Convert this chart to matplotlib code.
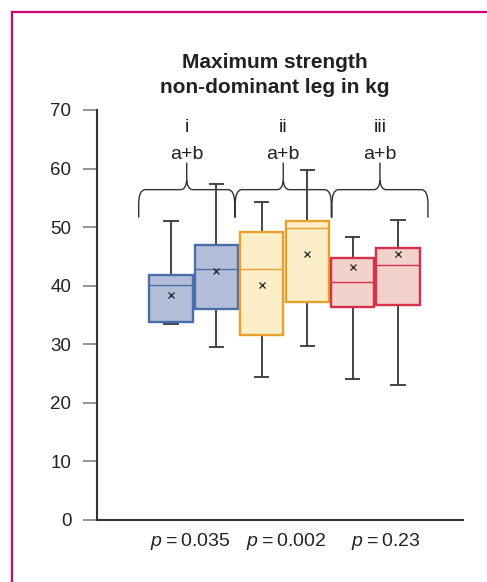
import matplotlib
matplotlib.use("Agg")
import matplotlib.pyplot as plt
from matplotlib.path import Path
from matplotlib.patches import PathPatch
from matplotlib.lines import Line2D
import matplotlib.transforms as mtransforms

plt.rcParams['font.family'] = ['Liberation Sans', 'DejaVu Sans']
plt.rcParams['mathtext.fontset'] = 'custom'
plt.rcParams['mathtext.it'] = 'Liberation Sans:italic'
plt.rcParams['mathtext.rm'] = 'Liberation Sans'

# ---- data ----
group_labels = ["i", "ii", "iii"]
sig_labels = ["a+b", "a+b", "a+b"]
p_labels = ["0.035", "0.002", "0.23"]
whislo = [33.4, 29.6, 24.5, 29.7, 24.1, 23.0]
q1 = [33.8, 36.1, 31.6, 37.3, 36.3, 36.7]
med = [40.2, 42.9, 42.8, 49.8, 40.7, 43.6]
q3 = [41.9, 47.0, 49.1, 51.1, 44.7, 46.5]
whishi = [51.1, 57.4, 54.3, 59.8, 48.4, 51.3]
means = [38.4, 42.5, 40.1, 45.4, 43.2, 45.5]
yticks = [0, 10, 20, 30, 40, 50, 60, 70]
title = "Maximum strength\nnon-dominant leg in kg"

fills = ["#b4bed9", "#b4bed9", "#fbeec8", "#fbeec8", "#f3d2cb", "#f3d2cb"]
edges = ["#4a6ea8", "#4a6ea8", "#e8a12e", "#e8a12e", "#d8304b", "#d8304b"]

W, H = 487, 582
fig = plt.figure(figsize=(W / 100, H / 100), dpi=100)
ax = fig.add_axes([97 / W, (H - 520) / H, (463 - 97) / W, (520 - 110) / H])

positions = list(range(1, 7))
stats = []
for i in range(6):
    stats.append(dict(whislo=whislo[i], q1=q1[i], med=med[i], q3=q3[i],
                      whishi=whishi[i], mean=means[i], fliers=[]))

bp = ax.bxp(stats, positions=positions, widths=0.95, patch_artist=True,
            showmeans=True, showfliers=False, capwidths=0.29,
            meanprops=dict(marker='x', markeredgecolor='#222222',
                           markersize=5, markeredgewidth=0.9),
            whiskerprops=dict(color='#444444', linewidth=1.4),
            capprops=dict(color='#444444', linewidth=1.4))
for i in range(6):
    bp['boxes'][i].set_facecolor(fills[i])
    bp['boxes'][i].set_edgecolor(edges[i])
    bp['boxes'][i].set_linewidth(1.7)
    bp['boxes'][i].set_zorder(3)
    bp['medians'][i].set_color(edges[i])
    bp['medians'][i].set_linewidth(1.0)
    bp['medians'][i].set_zorder(4)
    bp['means'][i].set_zorder(5)

ax.set_xlim(-0.630, 7.432)
ax.set_ylim(0, 70)
ax.set_yticks(yticks)
ax.set_xticks([])
for s in ['top', 'right']:
    ax.spines[s].set_visible(False)
for s in ['left', 'bottom']:
    ax.spines[s].set_color('#333333')
    ax.spines[s].set_linewidth(1.5)
ax.tick_params(axis='y', direction='out', length=10, width=1.1, color='#777777',
               pad=8.5, labelsize=13.5, labelcolor='#222222')

# braces
def brace(xc, yc):
    s = 1 / 100.0
    Wb = 48
    verts = [(-Wb, -28), (-Wb, -14), (-Wb, -1), (-Wb + 6, 0), (-6, 0), (-1, 0), (0, 9), (0, 27),
             (0, 9), (1, 0), (6, 0), (Wb - 6, 0), (Wb, -1), (Wb, -14), (Wb, -28)]
    codes = [Path.MOVETO, Path.LINETO, Path.CURVE3, Path.CURVE3, Path.LINETO, Path.CURVE3,
             Path.CURVE3, Path.LINETO, Path.MOVETO, Path.CURVE3, Path.CURVE3, Path.LINETO,
             Path.CURVE3, Path.CURVE3, Path.LINETO]
    verts = [(x * s, y * s) for x, y in verts]
    tr = fig.dpi_scale_trans + mtransforms.ScaledTranslation(xc, yc, ax.transData)
    pp = PathPatch(Path(verts, codes), transform=tr, facecolor='none',
                   edgecolor='#333333', linewidth=1.0, clip_on=False)
    ax.add_artist(pp)

brace_offsets = [-0.154, -0.027, 0.103]
p_offsets = [-0.08, 0.03, 0.23]
for g in range(3):
    gc = positions[2 * g] + 0.5
    bx = gc + brace_offsets[g]
    brace(bx, 56.4)
    ax.text(bx, 66.2, group_labels[g], ha='center', va='baseline', fontsize=14,
            color='#222222', clip_on=False)
    ax.text(bx, 61.6, sig_labels[g], ha='center', va='baseline', fontsize=14,
            color='#222222', clip_on=False)
    ax.text(gc + p_offsets[g], -4.37, r'$p$' + '\u2009=\u2009' + p_labels[g],
            ha='center', va='baseline', fontsize=14, color='#222222', clip_on=False)

fig.text(275 / W, 1 - 75 / H, title, ha='center', va='center', fontsize=15,
         fontweight='bold', color='#222222', linespacing=1.35)

# frame
bc = '#d6006e'
fig.add_artist(Line2D([12 / W, 12 / W], [0, 1 - 12 / H], color=bc, linewidth=1.6,
                      transform=fig.transFigure))
fig.add_artist(Line2D([12 / W, 1], [1 - 12 / H, 1 - 12 / H], color=bc, linewidth=1.6,
                      transform=fig.transFigure))

fig.savefig("out.png", dpi=100)
